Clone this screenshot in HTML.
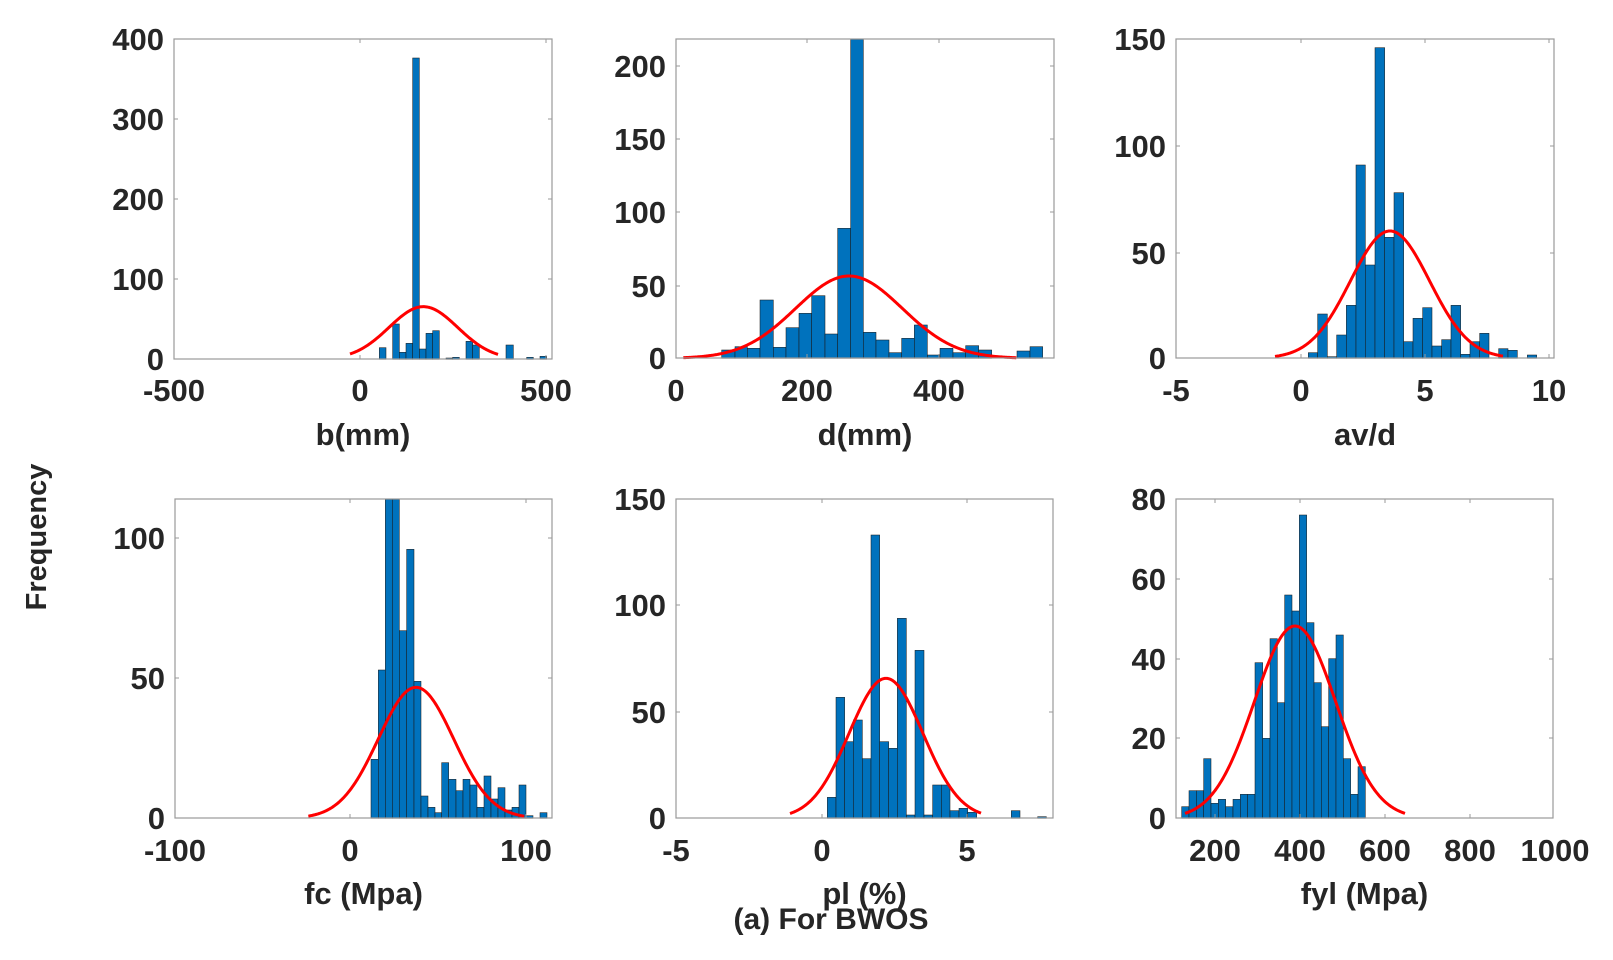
<!DOCTYPE html>
<html><head><meta charset="utf-8"><style>
html,body{margin:0;padding:0;background:#fff;width:1613px;height:960px;overflow:hidden}
svg text{font-family:"Liberation Sans",Arial,sans-serif;font-weight:bold;fill:#262626}
</style></head><body>
<svg id="s" width="1613" height="960" viewBox="0 0 1613 960" xmlns="http://www.w3.org/2000/svg">
<text x="46" y="537" font-size="29" text-anchor="middle" transform="rotate(-90 46 537)">Frequency</text>
<text x="831" y="929" font-size="30" text-anchor="middle">(a) For BWOS</text>
</svg>
<script>
var S=document.getElementById('s'),NS='http://www.w3.org/2000/svg';
function el(t,a,p){var e=document.createElementNS(NS,t);for(var k in a)e.setAttribute(k,a[k]);(p||S).appendChild(e);return e;}
function txt(x,y,s,sz,anc){var e=el('text',{x:x,y:y,'font-size':sz,'text-anchor':anc});e.textContent=s;}
var P=[
{o:[100,300],base:178,top:-783,left:222,right:1356,bars:[[838,858,143],[878,898,72],[898,918,157],[918,938,130],[938,958,-726],[958,978,147],[978,998,100],[998,1018,92],[1038,1058,174],[1058,1078,172],[1098,1118,124],[1118,1138,135],[1218,1240,135],[1280,1300,172],[1320,1340,169]],c:[970,158,103,750,1195],
 px:[174,552,39,359],xt:[[174,'-500'],[360,'0'],[546,'500']],yt:[[359,'0'],[279,'100'],[199,'200'],[119,'300'],[39,'400']],xl:'b(mm)',xly:401,lab:445},
{o:[650,30],base:985,top:28,left:77,right:1212,bars:[[215,255,960],[255,292,950],[292,330,955],[330,370,810],[370,408,952],[408,447,893],[447,485,850],[485,525,797],[525,563,912],[563,602,595],[602,640,28],[640,678,907],[678,717,930],[717,755,968],[755,793,925],[793,832,885],[832,870,975],[870,909,955],[909,947,968],[947,986,947],[986,1025,960],[1101,1140,963],[1140,1178,950]],c:[597,247,160,100,1100],
 px:[676,1054,39,358],xt:[[676,'0'],[807,'200'],[939,'400']],yt:[[358,'0'],[286,'50'],[212,'100'],[139,'150'],[66,'200']],xl:'d(mm)',xly:401,lab:445},
{o:[1130,30],base:985,top:28,left:138,right:1272,bars:[[535,563,968],[563,592,852],[592,620,980],[620,649,915],[649,678,826],[678,706,405],[706,735,705],[735,764,53],[764,792,622],[792,821,488],[821,849,935],[849,878,865],[878,906,833],[906,935,948],[935,963,929],[963,992,826],[992,1020,973],[1020,1049,935],[1049,1077,910],[1106,1134,956],[1134,1162,961],[1192,1220,975]],c:[780,382,119,435,1120],
 px:[1176,1554,39,358],xt:[[1176,'-5'],[1301,'0'],[1425,'5'],[1549,'10']],yt:[[358,'0'],[253,'50'],[146,'100'],[39,'150']],xl:'av/d',xly:401,lab:445},
{o:[160,490],base:985,top:28,left:44,right:1175,bars:[[633,655,808],[655,676,540],[676,697,28],[697,718,28],[718,740,422],[740,762,178],[762,783,574],[783,804,918],[804,825,952],[825,845,968],[845,866,818],[866,888,868],[888,909,902],[909,930,868],[930,951,885],[951,972,952],[972,993,858],[993,1014,927],[1014,1035,893],[1035,1056,960],[1056,1077,952],[1077,1098,885],[1098,1119,977],[1140,1161,968]],c:[768,393,113,445,1095],
 px:[175,552,499,818],xt:[[175,'-100'],[350,'0'],[526,'100']],yt:[[818,'0'],[678,'50'],[538,'100']],xl:'fc (Mpa)',xly:861,lab:904},
{o:[660,490],base:985,top:28,left:47,right:1180,bars:[[502,528,922],[528,554,622],[554,580,755],[580,607,690],[607,633,806],[633,659,135],[659,686,755],[686,712,775],[712,739,385],[739,765,975],[765,792,481],[792,818,975],[818,844,885],[844,870,885],[870,897,962],[897,923,955],[923,950,967],[1054,1080,962],[1133,1159,980]],c:[678,420,111,390,965],
 px:[676,1053,499,818],xt:[[676,'-5'],[822,'0'],[967,'5']],yt:[[818,'0'],[712,'50'],[605,'100'],[499,'150']],xl:'pl (%)',xly:861,lab:904},
{o:[1160,490],base:985,top:28,left:47,right:1180,bars:[[65,87,950],[87,109,902],[109,131,902],[131,153,806],[153,175,940],[175,197,928],[197,219,950],[219,241,928],[241,263,913],[263,285,913],[285,308,518],[308,330,745],[330,352,446],[352,374,638],[374,396,315],[396,418,363],[418,440,75],[440,462,398],[462,484,578],[484,506,710],[506,528,506],[528,550,435],[550,572,806],[572,594,913],[594,616,830]],c:[405,577,122,75,735],
 px:[1176,1553,499,818],xt:[[1215,'200'],[1300,'400'],[1385,'600'],[1470,'800'],[1555,'1000']],yt:[[818,'0'],[738,'20'],[659,'40'],[579,'60'],[499,'80']],xl:'fyl (Mpa)',xly:861,lab:904}
];
P.forEach(function(p){
 var g=el('g',{transform:'translate('+p.o[0]+','+p.o[1]+') scale(0.33333)'});
 p.bars.forEach(function(b){
  var t=Math.max(b[2],p.top);
  el('rect',{x:b[0],y:t,width:b[1]-b[0],height:p.base-t,fill:'#0072bd',stroke:'#1a1a1a','stroke-width':1.6},g);
 });
 var c=p.c,d='';
 for(var x=c[3];x<=c[4];x+=3){var y=p.base-c[1]*Math.exp(-0.5*Math.pow((x-c[0])/c[2],2));d+=(d?'L':'M')+x+','+y.toFixed(1);}
 el('path',{d:d,fill:'none',stroke:'#ff0000','stroke-width':9,'stroke-linejoin':'round'},g);
 var a=p.px;
 el('rect',{x:a[0],y:a[2],width:a[1]-a[0],height:a[3]-a[2],fill:'none',stroke:'#9a9a9a','stroke-width':1.2});
 p.xt.forEach(function(t){
  if(t[0]>a[0]+1&&t[0]<a[1]-1){el('line',{x1:t[0],x2:t[0],y1:a[3],y2:a[3]-4,stroke:'#9a9a9a'});el('line',{x1:t[0],x2:t[0],y1:a[2],y2:a[2]+4,stroke:'#9a9a9a'});}
  txt(t[0],p.xly,t[1],31,'middle');
 });
 p.yt.forEach(function(t){
  el('line',{x1:a[0],x2:a[0]+4,y1:t[0],y2:t[0],stroke:'#9a9a9a'});el('line',{x1:a[1],x2:a[1]-4,y1:t[0],y2:t[0],stroke:'#9a9a9a'});
  txt(a[0]-10,t[0]+11,t[1],31,'end');
 });
 txt((a[0]+a[1])/2,p.lab,p.xl,31,'middle');
});
</script>
</body></html>
